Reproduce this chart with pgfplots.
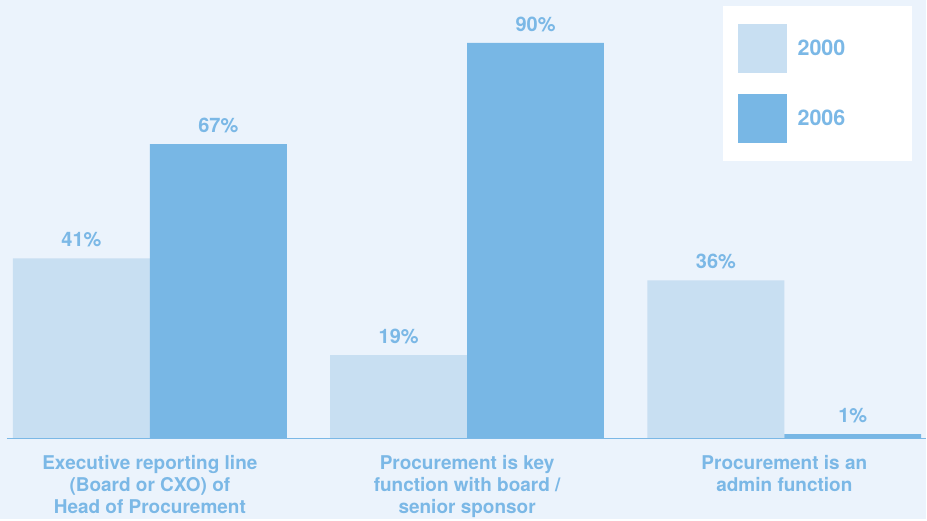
\documentclass[border=0pt]{standalone}
\usepackage{pgfplots}
\pgfplotsset{compat=1.18}
\usepackage{fontspec}
\setmainfont{TeX Gyre Heros}
\definecolor{bg}{RGB}{235,243,252}
\definecolor{lightbar}{RGB}{200,223,242}
\definecolor{darkbar}{RGB}{120,183,229}
\definecolor{txt}{RGB}{123,184,230}
\begin{document}
\begin{tikzpicture}
\begin{axis}[
  scale only axis,
  width=927pt, height=519pt,
  xmin=-0.4724, xmax=2.4472,
  ymin=-18.18, ymax=99.77,
  /pgf/number format/assume math mode=true,
  axis background/.style={fill=bg},
  axis x line=middle,
  axis y line=none,
  x axis line style={draw=none},
  ybar=0pt,
  bar width=0.4315,
  xtick={0,1,2},
  xticklabels={{Executive reporting line\\(Board or CXO) of\\Head of Procurement},
               {Procurement is key\\function with board /\\senior sponsor},
               {Procurement is an\\admin function}},
  major tick length=0pt,
  xticklabel style={font=\bfseries\fontsize{19}{22}\selectfont, text=txt, align=center, anchor=north, yshift=-13pt},
  nodes near coords={\pgfmathprintnumber{\pgfplotspointmeta}\%},
  nodes near coords style={font=\bfseries\fontsize{20}{22}\selectfont, text=txt, anchor=south, inner sep=0pt, yshift=11pt},
  clip=false,
  legend style={at={(rel axis cs:0.78,0.9884)}, anchor=north west, fill=white, draw=none,
    inner xsep=15pt, inner ysep=18pt, row sep=20.5pt, column sep=11pt,
    nodes={font=\bfseries\fontsize{21.5}{22}\selectfont, text=txt, anchor=west, inner sep=0pt, text width=100pt}},
  legend image code/.code={\fill[#1] (0pt,-24.5pt) rectangle (49pt,24.5pt);},
]
\addplot[fill=lightbar, draw=none] coordinates {(0,41) (1,19) (2,36)};
\addplot[fill=darkbar, draw=none] coordinates {(0,67) (1,90) (2,1)};
\legend{2000,2006}
\draw[txt, line width=1.6pt] (axis cs:-0.4504,0) -- (axis cs:2.4472,0);
\end{axis}
\end{tikzpicture}
\end{document}
